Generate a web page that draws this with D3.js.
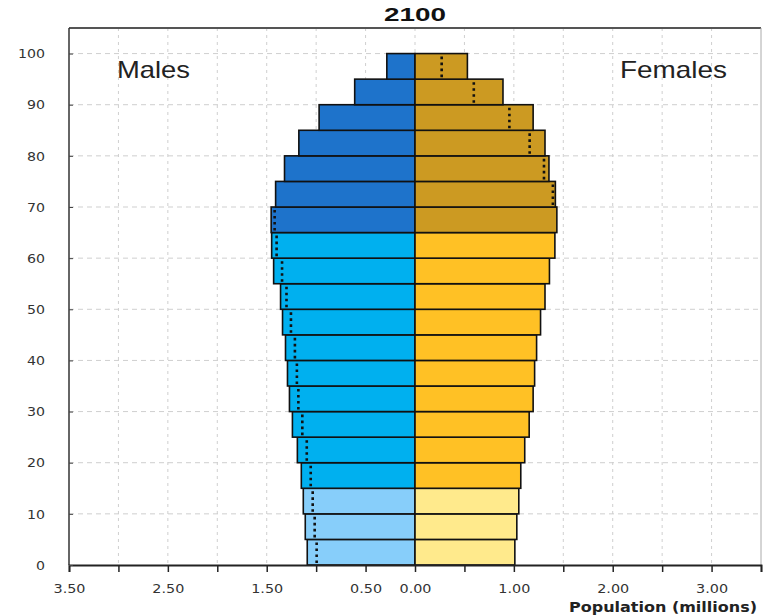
<!DOCTYPE html>
<html>
<head>
<meta charset="utf-8">
<script src="https://cdn.jsdelivr.net/npm/d3@7"></script>
<style>
  html, body { margin: 0; padding: 0; background: #fff; }
  svg { display: block; }
</style>
</head>
<body>
<svg id="chart" width="768" height="616"></svg>
<script>
// ---- data ----
const ageGroups = ["0-4","5-9","10-14","15-19","20-24","25-29","30-34","35-39","40-44","45-49",
                   "50-54","55-59","60-64","65-69","70-74","75-79","80-84","85-89","90-94","95-99"];
const ageStarts = [0,5,10,15,20,25,30,35,40,45,50,55,60,65,70,75,80,85,90,95];
const males   = [1.09, 1.11, 1.13, 1.15, 1.19, 1.24, 1.27, 1.29, 1.31, 1.34,
                 1.36, 1.43, 1.45, 1.455, 1.41, 1.32, 1.175, 0.97, 0.61, 0.285];
const females = [1.01, 1.03, 1.05, 1.07, 1.11, 1.155, 1.195, 1.21, 1.23, 1.27,
                 1.315, 1.36, 1.415, 1.435, 1.42, 1.355, 1.315, 1.195, 0.89, 0.53];
const xTickValues = [-3.5,-3,-2.5,-2,-1.5,-1,-0.5,0,0.5,1,1.5,2,2.5,3,3.5];
const xTickLabels = {"-3.5":"3.50","-2.5":"2.50","-1.5":"1.50","-0.5":"0.50","0":"0.00","1":"1.00","2":"2.00","3":"3.00"};
const yTickValues = [0,10,20,30,40,50,60,70,80,90,100];
const title = "2100";

// ---- styles ----
const maleColors   = { young: "#87cefa", adult: "#00b0ef", old: "#1e73cb" };
const femaleColors = { young: "#ffea8c", adult: "#ffc125", old: "#cc9a22" };
function band(age){ return age < 15 ? "young" : (age < 65 ? "adult" : "old"); }

const svg = d3.select("#chart");
const L = 69, R = 761, T = 28, B = 565;
const x = d3.scaleLinear().domain([-3.5, 3.5]).range([L, R]);
const y = d3.scaleLinear().domain([0, 105]).range([B, T]);

// gridlines
const grid = svg.append("g");
grid.selectAll("line.v").data(xTickValues.filter(v => v > -3.5 && v < 3.5)).join("line")
  .attr("x1", d => x(d)).attr("x2", d => x(d)).attr("y1", T).attr("y2", B)
  .attr("stroke", "#cfcfcf").attr("stroke-width", 1).attr("stroke-dasharray", "3,4");
grid.selectAll("line.h").data(yTickValues.filter(v => v > 0)).join("line")
  .attr("x1", L).attr("x2", R).attr("y1", d => y(d)).attr("y2", d => y(d))
  .attr("stroke", "#cfcfcf").attr("stroke-width", 1).attr("stroke-dasharray", "5,4");

// frame
svg.append("line").attr("x1", L).attr("x2", R).attr("y1", T).attr("y2", T)
  .attr("stroke", "#555").attr("stroke-width", 2);
svg.append("line").attr("x1", L).attr("x2", L).attr("y1", T).attr("y2", B)
  .attr("stroke", "#333").attr("stroke-width", 1.5);
svg.append("line").attr("x1", R).attr("x2", R).attr("y1", T).attr("y2", B)
  .attr("stroke", "#aaa").attr("stroke-width", 1);

const rows = ageStarts.map((a, i) => ({ age: a, m: males[i], f: females[i] }));
const bh = y(0) - y(5);

// male bars
svg.append("g").selectAll("rect").data(rows).join("rect")
  .attr("x", d => x(-d.m)).attr("width", d => x(0) - x(-d.m))
  .attr("y", d => y(d.age + 5)).attr("height", bh)
  .attr("fill", d => maleColors[band(d.age)])
  .attr("stroke", "#111").attr("stroke-width", 1.6);
// female bars
svg.append("g").selectAll("rect").data(rows).join("rect")
  .attr("x", x(0)).attr("width", d => x(d.f) - x(0))
  .attr("y", d => y(d.age + 5)).attr("height", bh)
  .attr("fill", d => femaleColors[band(d.age)])
  .attr("stroke", "#111").attr("stroke-width", 1.6);

// dotted excess markers
const dots = svg.append("g").attr("stroke", "#111").attr("stroke-width", 2.6).attr("stroke-dasharray", "2.6,3.4");
dots.selectAll("line.m").data(rows.filter(d => d.f < d.m)).join("line")
  .attr("x1", d => x(-d.f) + 1.5).attr("x2", d => x(-d.f) + 1.5)
  .attr("y1", d => y(d.age + 5) + 3).attr("y2", d => y(d.age) - 2);
dots.selectAll("line.f").data(rows.filter(d => d.m < d.f)).join("line")
  .attr("x1", d => x(d.m) - 1.5).attr("x2", d => x(d.m) - 1.5)
  .attr("y1", d => y(d.age + 5) + 3).attr("y2", d => y(d.age) - 2);

// x axis
const xAxis = d3.axisBottom(x).tickValues(xTickValues)
  .tickFormat(d => xTickLabels[String(d)] || "").tickSizeOuter(0).tickSize(7).tickPadding(12);
const gx = svg.append("g").attr("transform", `translate(0,${B})`).call(xAxis);
gx.select(".domain").attr("stroke", "#222").attr("stroke-width", 1.8);
gx.selectAll(".tick line").attr("stroke", "#222").attr("stroke-width", 1.5);
gx.selectAll(".tick text").attr("font-family", "DejaVu Sans, Verdana, sans-serif")
  .attr("font-size", 13).attr("fill", "#333")
  .filter(function(){ return this.textContent.length > 0; })
  .attr("textLength", 32).attr("lengthAdjust", "spacingAndGlyphs");

// y axis labels
const yAxis = d3.axisLeft(y).tickValues(yTickValues).tickSize(-4).tickPadding(24).tickSizeOuter(0);
const gy = svg.append("g").attr("transform", `translate(${L},0)`).call(yAxis);
gy.select(".domain").remove();
gy.selectAll(".tick line").attr("stroke", "#444");
gy.selectAll(".tick text").attr("font-family", "DejaVu Sans, Verdana, sans-serif")
  .attr("font-size", 13).attr("fill", "#333")
  .attr("textLength", function(){ return this.textContent.length * 9; })
  .attr("lengthAdjust", "spacingAndGlyphs");

// title & labels
svg.append("text").attr("x", x(0)).attr("y", 21).attr("text-anchor", "middle")
  .attr("font-family", "Liberation Sans, Arial, sans-serif").attr("font-weight", "bold")
  .attr("font-size", 19).attr("fill", "#111")
  .attr("textLength", 62).attr("lengthAdjust", "spacingAndGlyphs").text(title);
svg.append("text").attr("x", 117).attr("y", 78)
  .attr("font-family", "Liberation Sans, Arial, sans-serif").attr("font-size", 24)
  .attr("fill", "#222").attr("textLength", 73).attr("lengthAdjust", "spacingAndGlyphs").text("Males");
svg.append("text").attr("x", 620).attr("y", 78)
  .attr("font-family", "Liberation Sans, Arial, sans-serif").attr("font-size", 24)
  .attr("fill", "#222").attr("textLength", 107).attr("lengthAdjust", "spacingAndGlyphs").text("Females");
svg.append("text").attr("x", 569).attr("y", 612)
  .attr("font-family", "DejaVu Sans, Verdana, sans-serif").attr("font-weight", "bold")
  .attr("font-size", 13.5).attr("fill", "#222")
  .attr("textLength", 188).attr("lengthAdjust", "spacingAndGlyphs").text("Population (millions)");
</script>
</body>
</html>
